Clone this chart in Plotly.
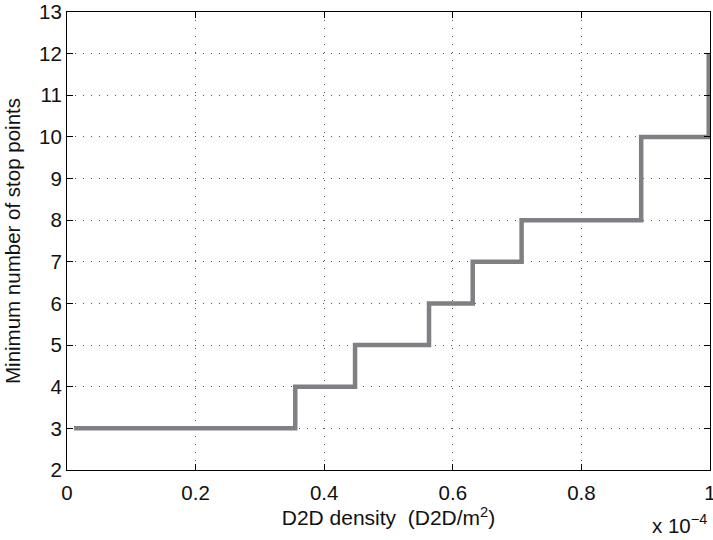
import plotly.graph_objects as go

# D2D density (in units of 1e-4 D2D/m^2) where the minimum number of stop points changes
density = [0.011, 0.355, 0.448, 0.563, 0.631, 0.707, 0.893, 0.998]
stop_points = [3, 4, 5, 6, 7, 8, 10, 12]

x_ticks = [0, 0.2, 0.4, 0.6, 0.8, 1]
x_tick_labels = ["0", "0.2", "0.4", "0.6", "0.8", "1"]
y_ticks = list(range(2, 14))

font_family = "Liberation Sans, Arial, sans-serif"
text_color = "#111111"

fig = go.Figure()
fig.add_trace(go.Scatter(
    x=density,
    y=stop_points,
    mode="lines",
    line=dict(shape="hv", color="#808084", width=4.5),
    showlegend=False,
))

axis_common = dict(
    showline=True,
    linecolor="#000000",
    linewidth=1,
    mirror="allticks",
    ticks="inside",
    ticklen=6,
    tickwidth=1,
    tickcolor="#000000",
    showgrid=True,
    gridcolor="#555555",
    gridwidth=1,
    griddash="1px,7px",
    zeroline=False,
    automargin=False,
    ticklabeloverflow="allow",
    tickfont=dict(family=font_family, size=20.5, color=text_color),
)

fig.update_xaxes(
    range=[0, 1],
    tickvals=x_ticks,
    ticktext=x_tick_labels,
    ticklabelstandoff=4,
    title=dict(text="D2D density  (D2D/m<sup>2</sup>)",
               font=dict(family=font_family, size=21, color=text_color),
               standoff=6),
    **axis_common,
)
fig.update_yaxes(
    range=[2, 13],
    tickvals=y_ticks,
    title=dict(text="Minimum number of stop points",
               font=dict(family=font_family, size=20.5, color=text_color),
               standoff=12),
    **axis_common,
)

fig.add_annotation(
    x=1, y=0, xref="paper", yref="paper",
    xanchor="right", yanchor="top",
    xshift=-1, yshift=-39,
    text="x 10<sup>\u22124</sup>",
    showarrow=False,
    font=dict(family=font_family, size=20.5, color=text_color),
)

fig.update_layout(
    width=713,
    height=540,
    margin=dict(l=67, r=3, t=12, b=70),
    paper_bgcolor="#ffffff",
    plot_bgcolor="#ffffff",
)

fig.write_html("out.html")
